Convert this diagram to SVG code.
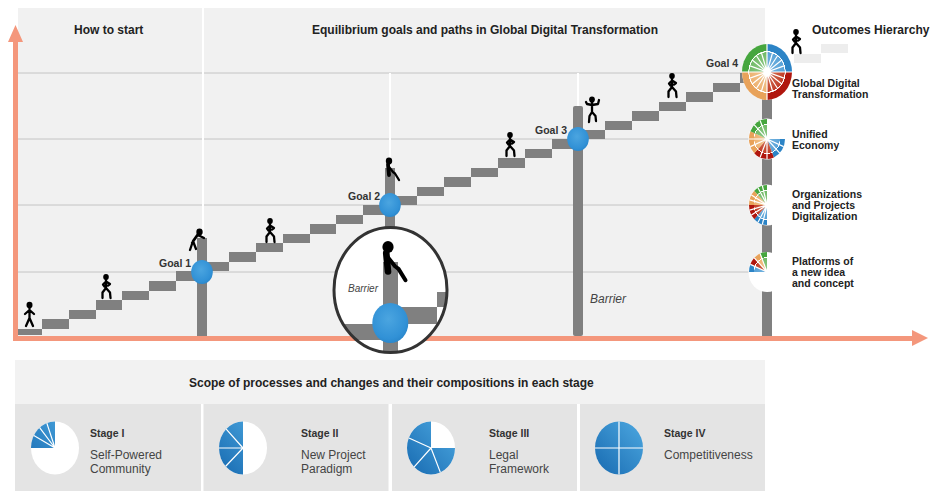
<svg xmlns="http://www.w3.org/2000/svg" xmlns:xlink="http://www.w3.org/1999/xlink" width="930" height="491" viewBox="0 0 930 491">
<style>
text{font-family:"Liberation Sans",Arial,sans-serif;fill:#222}
.h{font-size:12px;font-weight:bold}
.g{font-size:10.5px;font-weight:bold;fill:#333}
.o{font-size:10.5px;font-weight:bold}
.s{font-size:10.5px;font-weight:bold;fill:#333}
.d{font-size:12px;fill:#444}
.spoke{fill:none;stroke:#fff;stroke-width:1.2;vector-effect:non-scaling-stroke}
.fig{fill:none;stroke:#000;stroke-width:2.3;stroke-linecap:round;stroke-linejoin:round}
.grid{stroke:#c4c4c4;stroke-width:1}
</style>
<defs>
<radialGradient id="ball" cx="0.45" cy="0.4" r="0.7"><stop offset="0" stop-color="#4ba5e0"/><stop offset="0.7" stop-color="#3191d6"/><stop offset="1" stop-color="#2580c4"/></radialGradient>
<linearGradient id="st" gradientUnits="userSpaceOnUse" x1="0.9" y1="-0.9" x2="-0.9" y2="0.9"><stop offset="0" stop-color="#4aa5de"/><stop offset="1" stop-color="#1a6db3"/></linearGradient>
<radialGradient id="gb" gradientUnits="userSpaceOnUse" cx="0" cy="0" r="1"><stop offset="0" stop-color="#fff"/><stop offset="0.2" stop-color="#6fb0dd"/><stop offset="0.7" stop-color="#5aa3d8"/><stop offset="0.71" stop-color="#fff"/><stop offset="0.74" stop-color="#fff"/><stop offset="0.75" stop-color="#2c84c6"/><stop offset="1" stop-color="#2c84c6"/></radialGradient>
<radialGradient id="gr" gradientUnits="userSpaceOnUse" cx="0" cy="0" r="1"><stop offset="0" stop-color="#fff"/><stop offset="0.2" stop-color="#cf6a50"/><stop offset="0.7" stop-color="#c23e28"/><stop offset="0.71" stop-color="#fff"/><stop offset="0.74" stop-color="#fff"/><stop offset="0.75" stop-color="#b0160e"/><stop offset="1" stop-color="#b0160e"/></radialGradient>
<radialGradient id="go" gradientUnits="userSpaceOnUse" cx="0" cy="0" r="1"><stop offset="0" stop-color="#fff"/><stop offset="0.2" stop-color="#f0c48e"/><stop offset="0.7" stop-color="#eeb272"/><stop offset="0.71" stop-color="#fff"/><stop offset="0.74" stop-color="#fff"/><stop offset="0.75" stop-color="#e8a25a"/><stop offset="1" stop-color="#e8a25a"/></radialGradient>
<radialGradient id="gg" gradientUnits="userSpaceOnUse" cx="0" cy="0" r="1"><stop offset="0" stop-color="#fff"/><stop offset="0.2" stop-color="#8cc884"/><stop offset="0.7" stop-color="#72bb68"/><stop offset="0.71" stop-color="#fff"/><stop offset="0.74" stop-color="#fff"/><stop offset="0.75" stop-color="#46a63e"/><stop offset="1" stop-color="#46a63e"/></radialGradient>
<g id="walk" class="fig"><ellipse cx="0" cy="0" rx="2.8" ry="3" fill="#000" stroke="none"/><path d="M0 2V11M0 4.500L4 7L2 8.500M0 4.500L-3 7.500L-1.500 9.500M0 11L-3.500 15.500L-3.500 21M0 11L4 15.500L4.500 21"/></g>
<g id="sit" class="fig"><ellipse cx="0" cy="0" rx="3.200" ry="3.400" fill="#000" stroke="none"/><path d="M-1 3.500L0 14" stroke-width="3.800"/><path d="M0 6L4 11L6 12.500L10 19"/></g>
<clipPath id="lens"><ellipse cx="390.500" cy="290" rx="56" ry="62"/></clipPath>
</defs>

<g id="background">
<rect x="18" y="8" width="747" height="328" fill="#f1f1f1"/>
<path d="M18 73H767M18 139H767M18 205H767M18 272H767" class="grid"/>
<path d="M203 8V240M390 73V170M578 73V106" stroke="#fff" stroke-width="2" fill="none"/>
</g>

<g id="connectors">
<g id="barriers" fill="#808080">
<rect x="197" y="238" width="10" height="98"/>
<rect x="385" y="168" width="10" height="60"/>
<rect x="573" y="106" width="10" height="230" rx="2"/>
<rect x="762" y="50" width="10" height="286"/>
</g>
<path id="stairs" fill="#808080" d="M18 329h24v6h-24zM42 319h27v10h-27zM69 310h27v9h-27zM96 300h26v10h-26zM122 291h27v9h-27zM149 281h27v10h-27zM176 271h27v10h-27zM203 262h26v9h-26zM229 252h27v10h-27zM256 243h27v9h-27zM283 234h27v9h-27zM310 224h26v10h-26zM336 215h27v9h-27zM363 205h27v10h-27zM390 196h27v9h-27zM417 187h27v9h-27zM444 177h27v10h-27zM471 168h27v9h-27zM498 158h27v10h-27zM525 149h27v9h-27zM552 139h26v10h-26zM578 130h27v9h-27zM605 121h27v9h-27zM632 111h27v10h-27zM659 102h27v9h-27zM686 92h27v10h-27zM713 83h27v9h-27zM740 73h27v10h-27z"/>
<path d="M794 54h27v9h-27zM821 44h27v9h-27z" fill="#ededed"/>
<path id="axes" d="M13 341V42H8L15.500 25L23 42H18V336H912V330L928 338L912 346V341Z" fill="#f4977c"/>
</g>

<g id="lens-view">
<ellipse cx="390.500" cy="290" rx="56" ry="62" fill="#fff"/>
<g clip-path="url(#lens)" fill="#808080">
<rect x="383" y="262" width="15" height="92"/>
<rect x="340" y="324" width="50" height="16"/>
<rect x="390" y="307" width="47" height="17"/>
<rect x="437" y="292" width="12" height="15"/>
</g>
<ellipse cx="390.500" cy="290" rx="56.500" ry="62.500" fill="none" stroke="#333" stroke-width="3"/>
<ellipse cx="390.300" cy="323" rx="18" ry="20" fill="url(#ball)"/>
<use xlink:href="#sit" href="#sit" transform="translate(388 247) scale(1.75)"/>
<text x="348" y="292" font-size="10" font-style="italic" style="fill:#444">Barrier</text>
</g>

<g id="goal-1"><ellipse cx="202" cy="272" rx="10.800" ry="12" fill="url(#ball)"/><text class="g" x="159" y="267">Goal 1</text></g>
<g id="goal-2"><ellipse cx="390" cy="205" rx="10.800" ry="12" fill="url(#ball)"/><text class="g" x="348" y="200">Goal 2</text></g>
<g id="goal-3"><ellipse cx="578" cy="139" rx="10.800" ry="12" fill="url(#ball)"/><text class="g" x="535" y="134">Goal 3</text></g>

<g id="figures">
<g class="fig"><ellipse cx="29.500" cy="305" rx="3" ry="3.200" fill="#000" stroke="none"/><path d="M29.500 307V318M29.500 310L25 314M29.500 310L34 314M29.500 318L26 326M29.500 318L33 326"/></g>
<use xlink:href="#walk" href="#walk" x="106" y="277"/>
<g class="fig"><ellipse cx="199.500" cy="232" rx="3.200" ry="3.400" fill="#000" stroke="none"/><path d="M198 234L193 241M198 235L204 238M197 236L192 243M193 241L190 250M193 241L196 249"/></g>
<use xlink:href="#walk" href="#walk" x="270" y="221"/>
<use xlink:href="#sit" href="#sit" x="389" y="161"/>
<use xlink:href="#walk" href="#walk" x="510" y="135"/>
<g class="fig"><ellipse cx="592" cy="99.500" rx="2.900" ry="3.100" fill="#000" stroke="none"/><path d="M592 102V112M592 105L587 104L586 102M592 105L598 104L599 100M592 112L589.500 116L589 122M592 112L595.500 116L596 121"/></g>
<use xlink:href="#walk" href="#walk" x="672" y="76"/>
<use xlink:href="#walk" href="#walk" x="796" y="32"/>
</g>

<g id="outcome-global">
<ellipse cx="767" cy="72" rx="25" ry="28" fill="#fff"/>
<g transform="translate(767 72) scale(25 28)">
<path d="M0 0V-1A1 1 0 0 1 1 0Z" fill="url(#gb)"/>
<path d="M0 0H1A1 1 0 0 1 0 1Z" fill="url(#gr)"/>
<path d="M0 0V1A1 1 0 0 1 -1 0Z" fill="url(#go)"/>
<path d="M0 0H-1A1 1 0 0 1 0 -1Z" fill="url(#gg)"/>
<path class="spoke" d="M0 -1V1M-1 0H1M.22 -.68L-.22 .68M.42 -.58L-.42 .58M.58 -.42L-.58 .42M.68 -.22L-.68 .22M-.22 -.68L.22 .68M-.42 -.58L.42 .58M-.58 -.42L.58 .42M-.68 -.22L.68 .22"/>
</g>
<text class="g" x="706" y="67">Goal 4</text>
<text class="o" x="792" y="87">Global Digital</text><text class="o" x="792" y="98">Transformation</text>
</g>

<g id="outcome-economy">
<ellipse cx="767" cy="139" rx="18.500" ry="20.500" fill="#fff"/>
<g transform="translate(767 139) scale(18 20)">
<path d="M0 0H1A1 1 0 0 1 .383 .924Z" fill="url(#gb)"/>
<path d="M0 0L.383 .924A1 1 0 0 1 -.707 .707Z" fill="url(#gr)"/>
<path d="M0 0L-.707 .707A1 1 0 0 1 -.924 -.383Z" fill="url(#go)"/>
<path d="M0 0L-.924 -.383A1 1 0 0 1 0 -1Z" fill="url(#gg)"/>
<path class="spoke" d="M0 0L.924 .383M0 0L.707 .707M0 0L0 1M0 0L-.383 .924M0 0L-.924 .383M0 0L-1 0M0 0L-.707 -.707M0 0L-.383 -.924"/>
</g>
<text class="o" x="792" y="138">Unified</text><text class="o" x="792" y="149">Economy</text>
</g>

<g id="outcome-organizations">
<ellipse cx="767" cy="205" rx="18.500" ry="20.500" fill="#fff"/>
<g transform="translate(767 205) scale(18 20)">
<path d="M0 0V1A1 1 0 0 1 -.707 .707Z" fill="url(#gb)"/>
<path d="M0 0L-.707 .707A1 1 0 0 1 -1 0Z" fill="url(#gr)"/>
<path d="M0 0H-1A1 1 0 0 1 -.707 -.707Z" fill="url(#go)"/>
<path d="M0 0L-.707 -.707A1 1 0 0 1 0 -1Z" fill="url(#gg)"/>
<path class="spoke" d="M0 0L-.259 .966M0 0L-.5 .866M0 0L-.866 .5M0 0L-.966 .259M0 0L-.966 -.259M0 0L-.866 -.5M0 0L-.5 -.866M0 0L-.259 -.966"/>
</g>
<text class="o" x="792" y="198">Organizations</text><text class="o" x="792" y="209">and Projects</text><text class="o" x="792" y="220">Digitalization</text>
</g>

<g id="outcome-platforms">
<ellipse cx="767" cy="272" rx="18.500" ry="20" fill="#fff"/>
<g transform="translate(767 272) scale(18 20)">
<path d="M0 0H-1A1 1 0 0 1 -.924 -.383Z" fill="url(#gb)"/>
<path d="M0 0L-.924 -.383A1 1 0 0 1 -.707 -.707Z" fill="url(#gr)"/>
<path d="M0 0L-.707 -.707A1 1 0 0 1 -.383 -.924Z" fill="url(#go)"/>
<path d="M0 0L-.383 -.924A1 1 0 0 1 0 -1Z" fill="url(#gg)"/>
<path class="spoke" d="M0 0L-.924 -.383M0 0L-.707 -.707M0 0L-.383 -.924"/>
</g>
<text class="o" x="792" y="265">Platforms of</text><text class="o" x="792" y="276">a new idea</text><text class="o" x="792" y="287">and concept</text>
</g>

<g id="headers">
<text class="h" x="74" y="34">How to start</text>
<text class="h" x="312" y="34">Equilibrium goals and paths in Global Digital Transformation</text>
<text class="h" x="812" y="34">Outcomes Hierarchy</text>
<text x="590" y="303" font-size="12" font-style="italic" style="fill:#444">Barrier</text>
</g>

<g id="scope-panel">
<rect x="15" y="360" width="750" height="44" fill="#f2f2f2"/>
<text class="h" x="189" y="387">Scope of processes and changes and their compositions in each stage</text>
</g>

<g id="stage-1">
<rect x="15" y="404" width="186" height="87" fill="#e4e4e4"/>
<g transform="translate(55 448) scale(24 26.500)">
<circle r="1" fill="#fff"/>
<path d="M0 0H-1A1 1 0 0 1 0 -1Z" fill="url(#st)"/>
<path class="spoke" d="M0 0L-.88 -.47M0 0L-.64 -.77M0 0L-.34 -.94"/>
</g>
<text class="s" x="90" y="437">Stage I</text><text class="d" x="90" y="459">Self-Powered</text><text class="d" x="90" y="473">Community</text>
</g>

<g id="stage-2">
<rect x="203.500" y="404" width="185" height="87" fill="#e4e4e4"/>
<g transform="translate(243 448) scale(24 26.500)">
<circle r="1" fill="#fff"/>
<path d="M0 0V1A1 1 0 0 1 0 -1Z" fill="url(#st)"/>
<path class="spoke" d="M0 0L-.72 .69M0 0H-1M0 0L-.7 -.71"/>
</g>
<text class="s" x="301" y="437">Stage II</text><text class="d" x="301" y="459">New Project</text><text class="d" x="301" y="473">Paradigm</text>
</g>

<g id="stage-3">
<rect x="392" y="404" width="185" height="87" fill="#e4e4e4"/>
<g transform="translate(431 448) scale(24 26.500)">
<circle r="1" fill="#fff"/>
<path d="M0 0H1A1 1 0 1 1 0 -1Z" fill="url(#st)"/>
<path class="spoke" d="M0 0L.39 .92M0 0L-.7 .71M0 0L-.92 -.38"/>
</g>
<text class="s" x="489" y="437">Stage III</text><text class="d" x="489" y="459">Legal</text><text class="d" x="489" y="473">Framework</text>
</g>

<g id="stage-4">
<rect x="580" y="404" width="185" height="87" fill="#e4e4e4"/>
<g transform="translate(619 448) scale(24 26.500)">
<circle r="1" fill="url(#st)"/>
<path class="spoke" d="M0 -1V1M-1 0H1"/>
</g>
<text class="s" x="664" y="437">Stage IV</text><text class="d" x="664" y="459">Competitiveness</text>
</g>
</svg>
